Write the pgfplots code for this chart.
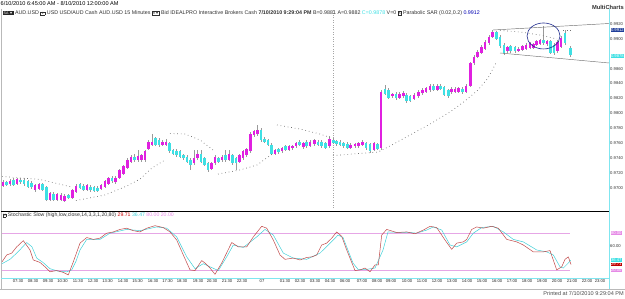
\documentclass[border=0pt]{standalone}
\usepackage{fontspec}
\setmainfont{Liberation Sans}
\usepackage{pgfplots}
\usepackage{pgfplotstable}
\pgfplotsset{compat=1.18}
\definecolor{mag}{HTML}{E020E0}
\definecolor{cyn}{HTML}{3EE0E4}
\definecolor{wick}{HTML}{9A9A9A}
\definecolor{sar}{HTML}{707070}
\definecolor{kred}{HTML}{C04848}
\definecolor{dcyan}{HTML}{40D0D8}
\definecolor{pinkl}{HTML}{E6A6E6}
\definecolor{pinkbox}{HTML}{E68AE6}
\definecolor{navyc}{HTML}{1E2A8C}
\definecolor{navybox}{HTML}{1F3D99}
\definecolor{axcyan}{HTML}{7FE6F0}
\definecolor{hdr}{HTML}{303030}
\definecolor{chan}{HTML}{707070}

\pgfplotstableread{
x o h l c
3 0.9703 0.9711 0.9701 0.9708
10 0.9705 0.9712 0.9703 0.9709
17 0.9706 0.9714 0.9704 0.9712
35 0.9697 0.9705 0.9695 0.9704
39 0.9699 0.9707 0.9697 0.9705
50 0.9684 0.9695 0.9682 0.9693
57 0.9684 0.9693 0.9682 0.9692
61 0.9684 0.9693 0.9682 0.9691
64.5 0.9683 0.9692 0.9681 0.9690
72.5 0.9687 0.9699 0.9685 0.9697
76 0.9695 0.9705 0.9693 0.9703
87 0.9697 0.9705 0.9696 0.9704
101 0.9699 0.9706 0.9697 0.9704
105 0.9702 0.9711 0.9700 0.9709
108.5 0.9706 0.9715 0.9704 0.9713
115.5 0.9708 0.9716 0.9706 0.9714
119.5 0.9714 0.9726 0.9712 0.9724
123.5 0.9719 0.9731 0.9717 0.9729
127.5 0.9727 0.9740 0.9725 0.9738
131 0.9735 0.9744 0.9733 0.9742
138 0.9738 0.9751 0.9735 0.9743
141.5 0.9738 0.9746 0.9735 0.9744
145 0.9738 0.9751 0.9735 0.9749
148.5 0.9753 0.9764 0.9751 0.9762
152 0.9758 0.9772 0.9756 0.9762
162.5 0.9758 0.9764 0.9756 0.9762
166 0.9758 0.9766 0.9756 0.9762
194 0.9733 0.9751 0.9731 0.9740
197.5 0.9740 0.9751 0.9738 0.9746
211.5 0.9726 0.9735 0.9724 0.9733
215 0.9733 0.9744 0.9731 0.9742
222 0.9738 0.9744 0.9735 0.9742
229 0.9738 0.9751 0.9736 0.9746
239.5 0.9735 0.9746 0.9733 0.9744
243 0.9740 0.9751 0.9738 0.9749
246.5 0.9744 0.9754 0.9742 0.9752
250.5 0.9749 0.9775 0.9747 0.9773
254 0.9771 0.9778 0.9769 0.9776
257.5 0.9772 0.9784 0.9770 0.9778
275 0.9746 0.9753 0.9744 0.9751
282 0.9749 0.9755 0.9747 0.9753
289 0.9751 0.9758 0.9749 0.9756
292.5 0.9753 0.9758 0.9751 0.9756
296 0.9756 0.9762 0.9754 0.9760
303.3 0.9755 0.9762 0.9753 0.9760
310 0.9757 0.9764 0.9755 0.9762
314.5 0.9759 0.9766 0.9757 0.9764
329.3 0.9756 0.9770 0.9754 0.9766
350.7 0.9754 0.9760 0.9752 0.9758
355 0.9756 0.9761 0.9754 0.9759
358.3 0.9756 0.9762 0.9754 0.9760
362.7 0.9758 0.9764 0.9756 0.9762
374 0.9751 0.9762 0.9749 0.9760
381 0.9753 0.9831 0.9751 0.9829
392.3 0.9823 0.9828 0.9821 0.9826
399.3 0.9821 0.9828 0.9819 0.9826
403.3 0.9823 0.9830 0.9821 0.9828
414 0.9820 0.9827 0.9818 0.9825
418.3 0.9823 0.9831 0.9821 0.9829
422.3 0.9827 0.9834 0.9825 0.9832
426 0.9829 0.9836 0.9827 0.9834
430 0.9831 0.9839 0.9829 0.9837
437.3 0.9832 0.9839 0.9830 0.9837
451.7 0.9828 0.9835 0.9826 0.9833
455 0.9829 0.9835 0.9827 0.9833
458.3 0.9829 0.9836 0.9827 0.9834
466 0.9829 0.9839 0.9827 0.9837
470.7 0.9837 0.9869 0.9835 0.9867
474 0.9867 0.9878 0.9865 0.9876
477.7 0.9876 0.9885 0.9874 0.9882
481.7 0.9881 0.9891 0.9879 0.9889
485 0.9887 0.9898 0.9885 0.9896
489 0.9894 0.9905 0.9892 0.9902
492.7 0.9902 0.9912 0.9901 0.9909
507.3 0.9883 0.9891 0.9881 0.9889
518.3 0.9884 0.9889 0.9882 0.9887
522.7 0.9885 0.9892 0.9883 0.9890
526 0.9887 0.9894 0.9885 0.9892
530 0.9888 0.9896 0.9886 0.9894
533.3 0.9888 0.9895 0.9886 0.9893
536.7 0.9892 0.9899 0.9890 0.9897
540 0.9893 0.9900 0.9891 0.9898
547 0.9893 0.9899 0.9891 0.9897
557.5 0.9883 0.9898 0.9881 0.9896
561 0.9889 0.9904 0.9887 0.9901
}\upc

\pgfplotstableread{
x o h l c
6.5 0.9708 0.9710 0.9702 0.9704
13.5 0.9711 0.9713 0.9703 0.9704
20.5 0.9711 0.9713 0.9706 0.9708
24 0.9711 0.9713 0.9703 0.9705
28 0.9709 0.9711 0.9700 0.9702
31.5 0.9707 0.9709 0.9699 0.9701
42.5 0.9705 0.9707 0.9696 0.9697
46.5 0.9701 0.9703 0.9683 0.9684
53.5 0.9692 0.9694 0.9682 0.9684
68.5 0.9691 0.9692 0.9685 0.9687
80 0.9705 0.9707 0.9698 0.9700
83.5 0.9703 0.9705 0.9696 0.9697
90.5 0.9702 0.9704 0.9695 0.9697
94 0.9701 0.9703 0.9695 0.9696
97.5 0.9700 0.9703 0.9694 0.9696
112 0.9714 0.9716 0.9707 0.9709
134.5 0.9742 0.9746 0.9735 0.9738
155.5 0.9767 0.9769 0.9756 0.9758
159 0.9765 0.9767 0.9755 0.9758
169.5 0.9760 0.9762 0.9747 0.9749
173 0.9751 0.9753 0.9744 0.9746
176.5 0.9750 0.9752 0.9742 0.9744
180 0.9749 0.9751 0.9740 0.9742
183.5 0.9744 0.9746 0.9738 0.9740
187 0.9742 0.9744 0.9733 0.9735
190.5 0.9738 0.9740 0.9724 0.9731
201 0.9746 0.9751 0.9733 0.9735
204.5 0.9740 0.9742 0.9729 0.9731
208 0.9733 0.9735 0.9721 0.9724
218.5 0.9740 0.9742 0.9733 0.9735
225.5 0.9744 0.9751 0.9735 0.9738
232.5 0.9744 0.9746 0.9731 0.9733
236 0.9740 0.9742 0.9724 0.9733
261 0.9778 0.9780 0.9762 0.9764
264.5 0.9766 0.9768 0.9760 0.9762
268 0.9764 0.9766 0.9756 0.9758
271.5 0.9758 0.9760 0.9744 0.9746
278.5 0.9752 0.9754 0.9746 0.9748
285.5 0.9756 0.9758 0.9749 0.9751
299.5 0.9762 0.9764 0.9756 0.9758
306.7 0.9762 0.9764 0.9754 0.9756
318 0.9762 0.9764 0.9756 0.9758
321.7 0.9762 0.9764 0.9754 0.9756
325.5 0.9760 0.9762 0.9752 0.9754
333.3 0.9765 0.9767 0.9759 0.9761
336.7 0.9763 0.9765 0.9757 0.9759
340 0.9762 0.9764 0.9756 0.9758
343.3 0.9760 0.9762 0.9754 0.9756
347.3 0.9759 0.9761 0.9752 0.9754
366 0.9760 0.9762 0.9751 0.9753
370 0.9759 0.9761 0.9747 0.9749
377.3 0.9759 0.9761 0.9751 0.9753
385 0.9833 0.9838 0.9824 0.9826
388.3 0.9831 0.9834 0.9819 0.9821
396 0.9826 0.9828 0.9818 0.9820
406.7 0.9825 0.9827 0.9814 0.9816
410 0.9823 0.9825 0.9815 0.9817
433.3 0.9837 0.9839 0.9830 0.9832
440.7 0.9837 0.9839 0.9831 0.9833
444 0.9835 0.9837 0.9823 0.9825
448.3 0.9831 0.9833 0.9821 0.9823
462.3 0.9833 0.9835 0.9826 0.9828
496.7 0.9909 0.9911 0.9898 0.9900
500 0.9902 0.9905 0.9888 0.9890
504 0.9892 0.9894 0.9878 0.9881
510.7 0.9890 0.9892 0.9881 0.9883
515 0.9889 0.9891 0.9881 0.9883
543.5 0.9898 0.9917 0.9892 0.9894
550.5 0.9897 0.9899 0.9879 0.9881
554 0.9892 0.9894 0.9878 0.9881
565 0.9908 0.9912 0.9892 0.9894
570.5 0.9888 0.9890 0.9876 0.9878
}\dnc

\newcommand\ibox[1]{{\setlength\fboxsep{0.4bp}\setlength\fboxrule{0.3bp}\fbox{\fontsize{3.6}{4}\selectfont #1}}}

\begin{document}
\begin{tikzpicture}[x=1bp,y=1bp]
\useasboundingbox (0,0) rectangle (625,298);

% price pane
\begin{axis}[at={(2bp,90bp)}, anchor=south west, scale only axis,
  width=607bp, height=199bp, xmin=2, xmax=609,
  ymin=0.967318, ymax=0.993984,
  axis line style={draw=none}, major tick length=0pt,
  xtick=\empty,
  ytick={0.970,0.972,0.974,0.976,0.978,0.980,0.982,0.984,0.986,0.990,0.992},
  yticklabel pos=right,
  yticklabel style={font=\fontsize{4.2}{4.5}\selectfont, text=black!80, inner sep=1bp,
    /pgf/number format/.cd, fixed, fixed zerofill, precision=4, assume math mode=true}]
\addplot[gray!70, line width=0.4bp, dash pattern=on 1bp off 1.4bp] coordinates {(333,0.96732) (333,0.99398)};
% wicks
\addplot[draw=none, mark=none, error bars/.cd, y dir=both, y explicit, error mark=none,
  error bar style={line width=0.5bp, draw=wick}]
  table[x=x, y expr={(\thisrow{h}+\thisrow{l})/2}, y error expr={(\thisrow{h}-\thisrow{l})/2}] {\upc};
\addplot[draw=none, mark=none, error bars/.cd, y dir=both, y explicit, error mark=none,
  error bar style={line width=0.5bp, draw=wick}]
  table[x=x, y expr={(\thisrow{h}+\thisrow{l})/2}, y error expr={(\thisrow{h}-\thisrow{l})/2}] {\dnc};
% bodies
\addplot[draw=none, mark=none, error bars/.cd, y dir=both, y explicit, error mark=none,
  error bar style={line width=2.5bp, draw=mag}]
  table[x=x, y expr={(\thisrow{o}+\thisrow{c})/2}, y error expr={abs(\thisrow{c}-\thisrow{o})/2}] {\upc};
\addplot[draw=none, mark=none, error bars/.cd, y dir=both, y explicit, error mark=none,
  error bar style={line width=2.5bp, draw=cyn}]
  table[x=x, y expr={(\thisrow{o}+\thisrow{c})/2}, y error expr={abs(\thisrow{c}-\thisrow{o})/2}] {\dnc};
% parabolic SAR
\pgfplotsset{sarst/.style={sar, line width=0.7bp, dash pattern=on 0.7bp off 2.9bp}}
\addplot[sarst] coordinates {(2,0.97154) (40,0.97114) (72,0.97013)};
\addplot[sarst] coordinates {(76,0.96832) (105,0.96906) (127,0.97027) (140,0.97120) (152,0.97268) (165,0.97375)};
\addplot[sarst] coordinates {(170,0.97730) (185,0.97723) (200,0.97643) (213,0.97509)};
\addplot[sarst] coordinates {(218,0.97187) (240,0.97241) (257,0.97308) (268,0.97415) (274,0.97469)};
\addplot[sarst] coordinates {(277,0.97844) (300,0.97790) (320,0.97723) (330,0.97677)};
\addplot[sarst] coordinates {(333,0.97435) (378,0.97482) (390,0.97563) (410,0.97710) (430,0.97857) (450,0.98018) (465,0.98166) (478,0.98313) (488,0.98474) (496,0.98675)};
\addplot[sarst] coordinates {(500,0.99110) (520,0.99090) (540,0.99050) (557,0.98996)};
\addplot[sarst] coordinates {(563,0.99110) (572,0.99110)};
% channel lines
\addplot[chan, line width=0.45bp] coordinates {(493,0.99117) (609,0.99204)};
\addplot[chan, line width=0.45bp] coordinates {(500,0.98809) (609,0.98675)};
\draw[navyc, line width=0.6bp] (axis cs:543.5,0.99037) ellipse [x radius=16.5bp, y radius=13bp];
\end{axis}

% stochastic pane
\begin{axis}[at={(2bp,20bp)}, anchor=south west, scale only axis,
  width=607bp, height=67bp, xmin=2, xmax=609, ymin=8.03, ymax=115.57,
  axis line style={draw=none}, major tick length=0pt,
  xtick={18,33,48,62.5,78,93,107.5,123,137.5,153,167.5,182,198,212,227,242,262,285,300,315,330,345,362,377,391,407,422,437,452,467,482,497,512,527,542,557,572,587,600},
  xticklabels={07:30,08:30,09:30,10:30,11:30,12:30,13:30,14:30,15:30,16:30,17:30,18:30,19:30,20:30,21:30,22:30,07,01:30,02:30,03:30,04:30,06:00,07:00,08:00,09:00,10:00,11:00,12:00,13:00,14:00,15:00,16:00,17:00,18:00,19:00,20:00,21:00,22:00,23:00},
  xticklabel style={font=\fontsize{4.2}{4.5}\selectfont, text=black!85, inner sep=1bp},
  ytick={60}, yticklabel pos=right,
  yticklabel style={font=\fontsize{4.2}{4.5}\selectfont, text=black!80, inner sep=1bp,
    /pgf/number format/.cd, fixed, fixed zerofill, precision=2, assume math mode=true}]
\addplot[pinkl, line width=0.5bp] coordinates {(2,80) (570,80)};
\addplot[pinkl, line width=0.5bp] coordinates {(2,20) (570,20)};
\addplot[dcyan, line width=0.5bp, line join=round] coordinates {
(2,31) (10,38) (18,50) (26.7,65) (32,58) (36.7,40) (43,33) (50,23) (58,19) (66.7,18) (71.7,21) (76,35) (80,53) (86.7,70) (100,70) (110,80) (126.7,86) (140,84) (156.7,90) (166.7,88) (176.7,74) (186.7,42) (195,23) (203.3,31) (210,26) (218.3,20) (226.7,42) (233.3,61) (243.3,57) (256.7,74) (265,86) (273.3,77) (283.3,48) (293.3,40) (306.7,38) (320,48) (333.3,69) (338,77) (343,73) (353,32) (358,22) (367,22) (375,24) (383,53) (388,82) (400,81) (410,81) (416.7,80) (426.7,85) (433.3,90) (441.7,85) (450,61) (456.7,58) (466.7,66) (473.3,80) (481.7,89) (493.3,91) (503.3,82) (513.3,70) (523.3,66) (536.7,53) (546.7,50) (553.3,45) (560,26) (563.3,24) (568.3,32) (570.7,36.5)};
\addplot[kred, line width=0.5bp, line join=round] coordinates {
(2,34) (6.7,45) (11.7,48) (16.7,58) (23.3,68) (30,53) (33.3,37) (40,33) (45,26) (50,18) (56.7,20) (63.3,17) (68.3,13) (73.3,34) (80,64) (86.7,73) (93.3,70) (100,72) (106.7,80) (113.3,82) (120,86) (126.7,88) (133.3,84) (140,82) (146.7,88) (155,92) (163.3,89) (170,82) (176.7,69) (183.3,45) (190,21) (195,20) (201.7,36) (205,32) (210,24) (215,14) (221.7,32) (231.7,65) (238.3,58) (246.7,58) (253.3,74) (261.7,91) (266.7,88) (273.3,69) (280,45) (285,38) (293.3,40) (300,37) (306.7,41) (312,42) (316.7,45) (321.7,61) (326.7,64) (331.7,72) (336.7,82) (341.7,75) (346.7,53) (355,20) (360,21) (365,24) (370,18) (375,29) (378.3,29) (381.7,77) (386.7,86) (396.7,81) (406.7,82) (415,79) (423.3,85) (430,91) (436.7,89) (445,69) (451.7,54) (456.7,64) (463.3,66) (466.7,70) (471.7,86) (476.7,90) (483.3,88) (491.7,91) (498.3,88) (506.7,70) (516.7,66) (523.3,61) (533.3,50) (543.3,50) (550,52) (556.7,21) (561.7,26) (565,38) (568.3,42) (571,29.7)};
\end{axis}

% frame
\draw[gray!55, line width=0.6bp] (1,289) -- (1,9);
\draw[black, line width=0.9bp] (1,87) -- (609.5,87);
\draw[axcyan, line width=0.6bp] (1,20) -- (609.5,20);
\draw[axcyan, line width=0.6bp] (609.5,289) -- (609.5,9);
\draw[gray!55, line width=0.5bp] (0,9) -- (625,9);

% right value boxes
\begin{scope}[every node/.style={anchor=west, inner sep=0.5bp, font=\fontsize{4.2}{4.5}\selectfont, text=white}]
\node[fill=navybox] at (610.3,268.2) {0.9912};
\node[fill=cyn] at (610.3,241.8) {0.9878};
\node[fill=pinkbox] at (610.3,64.8) {80.00};
\node[fill=cyn] at (610.3,37.9) {36.47};
\node[fill=red!75!black] at (610.3,33.5) {29.71};
\node[fill=pinkbox] at (610.3,27.5) {20.00};
\end{scope}

% texts
\node[anchor=west, inner sep=0, font=\fontsize{5.6}{6}\selectfont] at (0.5,294) {6/10/2010 6:45:00 AM - 8/10/2010 12:00:00 AM};
\node[anchor=east, inner sep=0, font=\bfseries\fontsize{5.8}{6}\selectfont, text=black!80] at (624,291) {MultiCharts};
\node[anchor=west, inner sep=0, font=\fontsize{5.35}{6}\selectfont, text=hdr] at (3,285) {{\setlength\fboxsep{0.5bp}\colorbox{black!85}{\textcolor{white}{\fontsize{3.6}{4}\selectfont SA ▼}}}~AUD.USD \ibox{▼} USD USD/AUD Cash AUD.USD 15 Minutes \ibox{R▼} Bid IDEALPRO Interactive Brokers Cash \textbf{7/10/2010 9:29:04 PM} B=0.9881 A=0.9882 \textcolor{cyn}{C=0.9878} V=0 \ibox{X} Parabolic SAR (0.02,0.2) \textcolor{blue!70!black}{0.9912}};
\node[anchor=west, inner sep=0, font=\fontsize{5.2}{6}\selectfont, text=hdr] at (2.5,82.5) {\ibox{X}~Stochastic Slow (high,low,close,14,3,3,1,20,80) \textcolor{red!80!black}{29.71} \textcolor{dcyan}{36.47} \textcolor{pinkbox}{80.00} \textcolor{pinkbox}{20.00}};
\node[anchor=east, inner sep=0, font=\fontsize{5.6}{6}\selectfont, text=black!70] at (624,4.5) {Printed at 7/10/2010 9:29:04 PM};
\end{tikzpicture}
\end{document}
